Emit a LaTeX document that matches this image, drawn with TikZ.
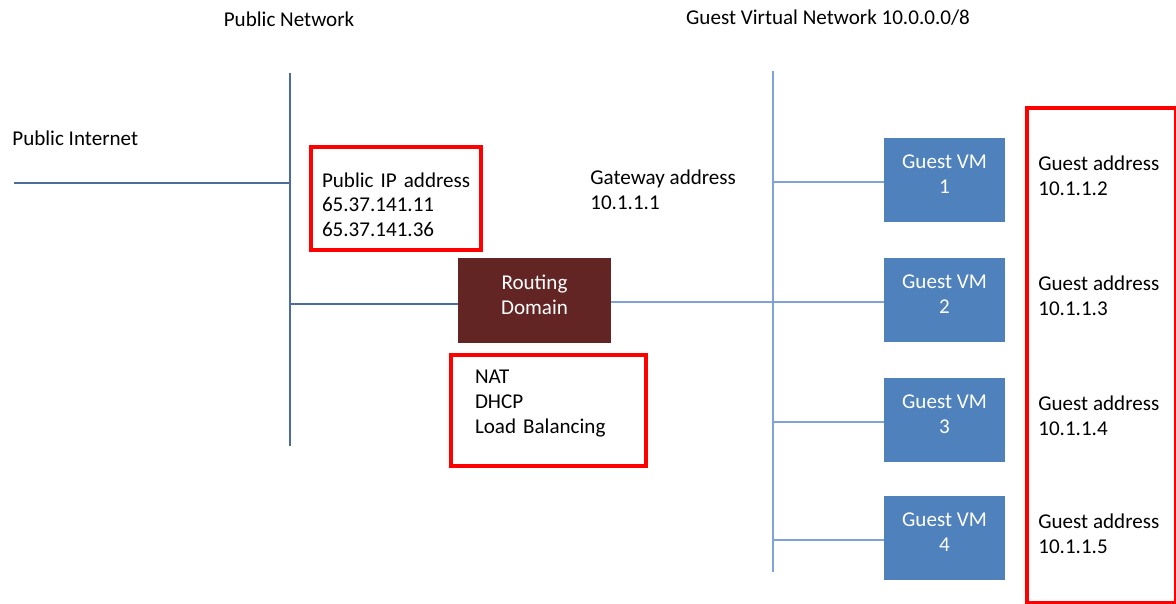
\documentclass[tikz,border=0pt]{standalone}
\usepackage{fontspec}
\setmainfont{Carlito}
\usetikzlibrary{positioning}
\definecolor{pubLine}{RGB}{74,108,160}
\definecolor{guestLine}{RGB}{125,163,217}
\definecolor{vmBlue}{RGB}{79,129,189}
\definecolor{routeBrown}{RGB}{99,37,35}
\definecolor{frameRed}{RGB}{255,0,0}

\begin{document}
\begin{tikzpicture}[x=0.02cm,y=-0.02cm,
  every node/.style={font=\fontsize{12}{14.2}\selectfont},
  lbl/.style={align=left,inner sep=0pt},
  pubwire/.style={pubLine,line width=0.8pt},
  guestwire/.style={guestLine,line width=1.1pt},
  redframe/.style={draw=frameRed,line width=2pt,align=left},
  vmbox/.style={fill=vmBlue,text=white,align=center,minimum width=2.42cm,minimum height=1.68cm,inner sep=0pt,text depth=7pt},
  routebox/.style={fill=routeBrown,text=white,align=center,minimum width=3.06cm,minimum height=1.7cm,inner sep=0pt,text depth=7pt}]
  \useasboundingbox (0,0) rectangle (1176,603);
  \clip (0,0) rectangle (1176,603);

  % headings
  \node[lbl] (pubhead) at (289,19) {Public Network};
  \node[lbl] (guesthead) at (828,18) {Guest Virtual Network 10.0.0.0/8};
  \node[lbl,anchor=west] (inettext) at (12,138) {Public Internet};

  % the two buses
  \coordinate (pubtop) at (290,73);
  \coordinate (pubbot) at (290,446);
  \coordinate (guesttop) at (773,71);
  \coordinate (guestbot) at (773,572);
  \coordinate (inet) at (14,183);
  \draw[pubwire] (pubtop) -- (pubbot);
  \draw[guestwire] (guesttop) -- (guestbot);

  % routing domain and its notes
  \node[routebox] (route) at (534.5,300.5) {Routing\\Domain};
  \node[redframe,minimum width=3.4cm,minimum height=2.06cm,inner xsep=0.22cm,text width=2.96cm,text depth=21.4pt] (pubip) at (396,198.5)
    {\mbox{Public IP address}\\65.37.141.11\\65.37.141.36};
  \node[redframe,minimum width=3.9cm,minimum height=2.22cm,inner xsep=0.48cm,text width=2.94cm,text depth=38.4pt] (services) at (548.5,410.5)
    {NAT\\DHCP\\\mbox{Load Balancing}};
  \node[lbl,anchor=west] (gateway) at (590,189.5) {Gateway address\\10.1.1.1};

  \draw[pubwire] (inet) -- (inet -| pubtop);
  \draw[pubwire] ([yshift=-2pt]route.west -| pubtop) -- ([yshift=-2pt]route.west);
  \draw[guestwire] ([yshift=-0.8pt]route.east) -- ([yshift=-0.8pt]route.east -| guesttop);

  % guest VMs
  \draw[redframe] (1027,108) rectangle (1176,603);
  \foreach \i/\y/\a in {1/180/2,2/300/3,3/420/4,4/538/5}{
    \node[vmbox] (vm\i) at (944.5,\y) {Guest VM\\\i};
    \draw[guestwire] ([yshift=-1.1pt]vm\i.west -| guesttop) -- ([yshift=-1.1pt]vm\i.west);
    \node[lbl,anchor=west] (addr\i) at (1038,\y-4) {Guest address\\10.1.1.\a};
  }
\end{tikzpicture}
\end{document}
